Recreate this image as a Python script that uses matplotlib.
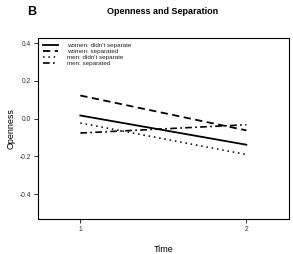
import numpy as np
import matplotlib
matplotlib.use("Agg")
from matplotlib import pyplot as plt

plt.rcParams["font.family"] = ["Liberation Sans", "DejaVu Sans"]

# Estimated marginal means
times = [1, 2]
series_labels = [
    "women: didn't separate",
    "women: separated",
    "men: didn't separate",
    "men: separated",
]
women_stayed = [0.017, -0.138]
women_separated = [0.123, -0.062]
men_stayed = [-0.023, -0.19]
men_separated = [-0.076, -0.032]

fig = plt.figure(figsize=(2.93, 2.54), dpi=100)
ax = fig.add_axes([38 / 293, 1 - 219 / 254, 251 / 293, 181 / 254])

styles = [
    dict(linestyle="-", linewidth=1.3),
    dict(linestyle=(0, (4, 2.5)), linewidth=1.3),
    dict(linestyle=(0, (1, 2.5)), linewidth=1.1),
    dict(linestyle=(0, (4, 2, 1, 2)), linewidth=1.2),
]
all_values = [women_stayed, women_separated, men_stayed, men_separated]
for vals, lab, st in zip(all_values, series_labels, styles):
    ax.plot(times, vals, color="black", label=lab, **st)

ax.set_xlim(0.745, 2.257)
ax.set_ylim(-0.532, 0.428)
ax.set_xticks([1, 2])
ax.set_yticks([0.4, 0.2, 0.0, -0.2, -0.4])
ax.set_yticklabels(["0.4", "0.2", "0.0", "-0.2", "-0.4"])
ax.tick_params(labelsize=4.8, length=3, width=0.7, pad=2, colors="#333333")

for sp in ax.spines.values():
    sp.set_linewidth(0.8)

ax.set_ylabel("Openness", fontsize=6.5, labelpad=3)
ax.set_xlabel("Time", fontsize=6.5, labelpad=9)

leg = ax.legend(loc="upper left", frameon=False, fontsize=4.5, handlelength=2.4,
                handletextpad=1.4, labelspacing=0.08, borderaxespad=0.4)
for t in leg.get_texts():
    t.set_color("#222222")

fig.text(163 / 293, 1 - 12 / 254, "Openness and Separation", fontsize=6.5,
         fontweight="bold", ha="center", va="center")
fig.text(32 / 293, 1 - 12 / 254, "B", fontsize=9, fontweight="bold",
         ha="center", va="center")

fig.savefig("out.png", dpi=100)
